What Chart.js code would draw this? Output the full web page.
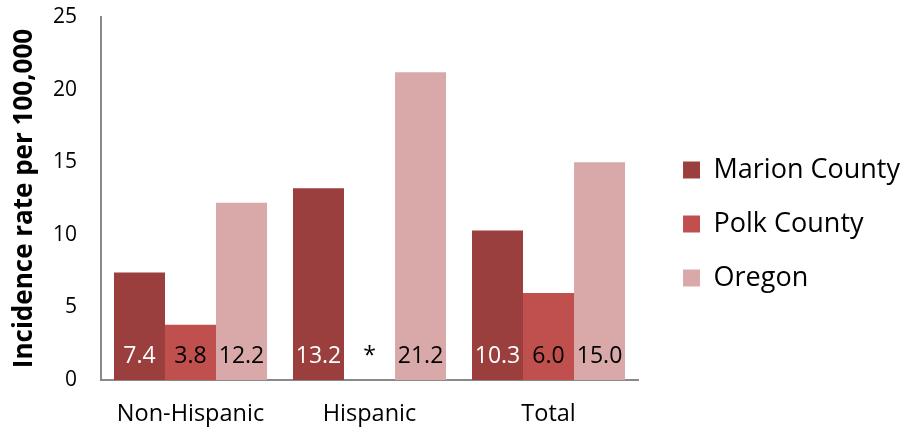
<!DOCTYPE html>
<html><head><meta charset="utf-8">
<script src="https://cdn.jsdelivr.net/npm/chart.js@4/dist/chart.umd.min.js"></script>
<style>html,body{margin:0;padding:0;background:#fff}#wrap{width:906px;height:431px}</style>
</head><body><div id="wrap"><canvas id="c" width="906" height="431"></canvas></div>
<script>
const categories = ["Non-Hispanic", "Hispanic", "Total"];
const marion = [7.4, 13.2, 10.3];
const polk = [3.8, null, 6.0];
const oregon = [12.2, 21.2, 15.0];
const seriesNames = ["Marion County", "Polk County", "Oregon"];
const yTicks = [0, 5, 10, 15, 20, 25];
const FONT = "'Open Sans', sans-serif";

const labelPlugin = {
  id: 'barLabels',
  afterDatasetsDraw(chart) {
    const ctx = chart.ctx;
    ctx.save();
    ctx.font = "23px " + FONT;
    ctx.textAlign = 'center';
    ctx.textBaseline = 'alphabetic';
    const colors = ['#ffffff', '#000000', '#000000'];
    const yBase = chart.scales.y.getPixelForValue(0);
    chart.data.datasets.forEach((ds, i) => {
      const meta = chart.getDatasetMeta(i);
      meta.data.forEach((bar, j) => {
        const v = ds.data[j];
        const txt = v === null ? '*' : v.toFixed(1);
        ctx.fillStyle = colors[i];
        ctx.fillText(txt, bar.x, yBase - 17);
      });
    });
    ctx.restore();
  }
};

new Chart(document.getElementById('c'), {
  type: 'bar',
  data: {
    labels: categories,
    datasets: [
      {label: seriesNames[0], data: marion, backgroundColor: '#9b3f3e'},
      {label: seriesNames[1], data: polk, backgroundColor: '#c0504d'},
      {label: seriesNames[2], data: oregon, backgroundColor: '#d9a9a9'}
    ]
  },
  options: {
    responsive: false,
    animation: false,
    datasets: {bar: {categoryPercentage: 0.855, barPercentage: 1.0}},
    layout: {padding: {top: 17, right: -4, bottom: 0, left: 0}},
    plugins: {
      legend: {
        position: 'right',
        align: 'center',
        maxWidth: 320,
        labels: {
          boxWidth: 17, boxHeight: 17, padding: 27,
          color: '#000',
          font: {family: FONT, size: 27}
        }
      },
      tooltip: {enabled: false}
    },
    scales: {
      x: {
        afterFit: (s) => { s.height = 51; },
        grid: {display: false, drawTicks: false},
        border: {color: '#898989', width: 2},
        ticks: {color: '#000', font: {family: FONT, size: 23.5}, padding: 20}
      },
      y: {
        min: 0, max: 25,
        afterBuildTicks: (s) => { s.ticks = yTicks.map(v => ({value: v})); },
        afterFit: (s) => { s.width = 101; s.paddingTop = 0; s.paddingBottom = 0; },
        grid: {display: false, drawTicks: false},
        border: {color: '#898989', width: 2},
        ticks: {color: '#000', font: {family: FONT, size: 21}, padding: 24},
        title: {display: true, text: 'Incidence rate per 100,000', color: '#000',
                font: {family: FONT, size: 26, weight: 'bold'}, padding: {top: 9, bottom: 12}}
      },
      gap: {
        position: 'right', display: true,
        grid: {display: false, drawTicks: false},
        border: {display: false},
        ticks: {display: false},
        afterFit: (s) => { s.width = 18; }
      }
    }
  },
  plugins: [labelPlugin]
});
</script></body></html>
